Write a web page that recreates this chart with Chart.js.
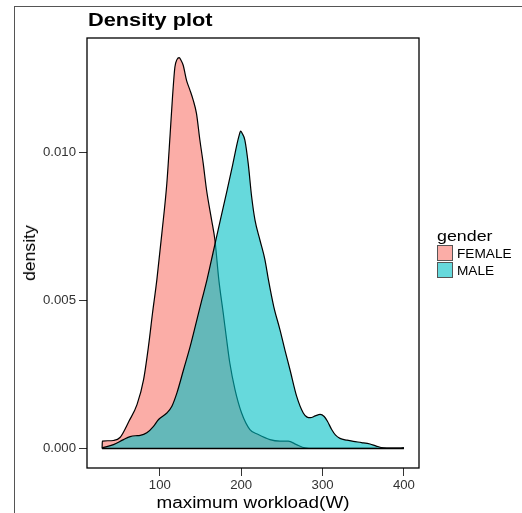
<!DOCTYPE html>
<html>
<head>
<meta charset="utf-8">
<title>Density plot</title>
<script src="https://cdn.jsdelivr.net/npm/chart.js@4.4.1/dist/chart.umd.min.js"></script>
<style>
body{margin:0;background:#fff;font-family:"Liberation Sans",Arial,sans-serif;}
#wrap{position:relative;width:522px;height:513px;overflow:hidden;}
#marco{position:absolute;left:14px;top:6px;width:520px;height:520px;border-left:1px solid #555;border-top:1px solid #555;}
#grafico{position:absolute;left:0;top:0;}
.txt{position:absolute;white-space:nowrap;color:#000;transform-origin:left top;}
.caja{position:absolute;left:437px;width:14px;height:14px;border:1px solid #555;}
</style>
</head>
<body>
<div id="wrap">
  <div id="marco"></div>
  <canvas id="grafico" width="522" height="513"></canvas>
  <div class="txt" style="left:88px;top:11.7px;font-size:17.7px;line-height:17.7px;font-weight:bold;transform:scaleX(1.23);">Density plot</div>
  <!-- titulos de ejes -->
  <div class="txt" style="left:253px;top:494.5px;font-size:16px;line-height:16px;transform-origin:center;transform:translateX(-50%) scaleX(1.18);">maximum workload(W)</div>
  <div class="txt" style="left:30px;top:253px;font-size:16px;line-height:16px;transform-origin:center;transform:translate(-50%,-50%) rotate(-90deg) scaleX(1.1);">density</div>
  <!-- leyenda -->
  <div class="txt" style="left:437px;top:227.6px;font-size:15.5px;line-height:15.5px;transform:scaleX(1.15);">gender</div>
  <div class="caja" style="top:245px;background:rgba(248,118,109,0.6);"></div>
  <div class="caja" style="top:262px;background:rgba(0,191,196,0.6);"></div>
  <div class="txt" style="left:456.5px;top:247.3px;font-size:13px;line-height:13px;transform:scaleX(1.05);">FEMALE</div>
  <div class="txt" style="left:456.5px;top:264px;font-size:13px;line-height:13px;transform:scaleX(1.05);">MALE</div>
</div>
<script>
// curvas de densidad
const femaleX = [29, 29.3, 36, 43, 51, 62, 72, 80, 86, 91, 96.3, 102.5, 108.6, 112.7, 115.6, 118.5, 121, 123.7, 126, 128.7, 132.8, 137, 141, 145, 149.2, 153.3, 157.4, 163.6, 167.7, 172.5, 177.9, 182, 186, 192.3, 200.5, 210.7, 221, 235.3, 247.6, 257.8, 268, 278.3, 290, 400];
const femaleY = [0, 0.00025, 0.00026, 0.00027, 0.00037, 0.00092, 0.00149, 0.00233, 0.00345, 0.00458, 0.0057, 0.00728, 0.00897, 0.01065, 0.0119, 0.0129, 0.01315, 0.01322, 0.01313, 0.01296, 0.01245, 0.01212, 0.01178, 0.01133, 0.01043, 0.00964, 0.00874, 0.00773, 0.00705, 0.0057, 0.00458, 0.0037, 0.00289, 0.002, 0.0012, 0.00064, 0.00047, 0.0003, 0.00025, 0.00025, 0.00013, 0.00002, 0, 0];

const maleX = [29, 43, 55.3, 63.5, 70, 75.8, 84, 92.2, 98.4, 108.6, 114.8, 121, 129.2, 137.3, 145.5, 151.7, 157.9, 166.2, 174.4, 182.7, 189.5, 194.1, 197.2, 199.3, 201.1, 204.5, 208.6, 212.8, 216.9, 223, 229.2, 233.5, 240, 247.6, 254, 259.9, 268.1, 276.3, 281, 285, 291, 297, 302, 306, 311.2, 316, 321.4, 330, 337.8, 348, 358.3, 366, 374.6, 385, 395, 400];
const maleY = [0.00002, 0.00013, 0.0003, 0.0004, 0.00043, 0.00044, 0.00053, 0.00075, 0.00098, 0.0012, 0.00143, 0.00188, 0.00267, 0.00345, 0.00435, 0.00503, 0.0057, 0.00672, 0.00773, 0.00874, 0.00959, 0.0102, 0.01056, 0.01073, 0.01066, 0.01043, 0.00964, 0.00852, 0.00773, 0.00705, 0.00638, 0.0057, 0.0048, 0.00402, 0.0033, 0.00267, 0.00177, 0.0012, 0.00106, 0.00104, 0.0011, 0.00115, 0.00108, 0.00092, 0.00064, 0.00045, 0.00034, 0.00028, 0.00024, 0.0002, 0.00015, 0.00008, 0.00002, 0.00001, 0.00001, 0.00003];

const xRange = [29, 400];
const xTicks = [100, 200, 300, 400];
const yTicks = [0, 0.005, 0.010];

const puntos = (xs, ys) => xs.map((x, i) => ({x: x, y: ys[i]}));

// limites con el 5% de margen como ggplot
const xPad = (xRange[1] - xRange[0]) * 0.05;
const yMax = Math.max(...femaleY, ...maleY);
const yPad = yMax * 0.05;

Chart.defaults.font.family = '"Liberation Sans", Arial, sans-serif';

// borde del panel
const bordePanel = {
    id: 'bordePanel',
    afterDraw(chart) {
        const {ctx, chartArea} = chart;
        ctx.save();
        ctx.strokeStyle = '#000';
        ctx.lineWidth = 1.3;
        ctx.strokeRect(chartArea.left, chartArea.top, chartArea.right - chartArea.left, chartArea.bottom - chartArea.top);
        ctx.restore();
    }
};

const ctx = document.getElementById('grafico').getContext('2d');
new Chart(ctx, {
    type: 'line',
    data: {
        datasets: [{
            label: 'FEMALE',
            data: puntos(femaleX, femaleY),
            borderColor: '#000',
            borderWidth: 1.2,
            backgroundColor: 'rgba(248,118,109,0.6)',
            fill: 'origin',
            pointRadius: 0,
            cubicInterpolationMode: 'monotone',
            order: 2
        }, {
            label: 'MALE',
            data: puntos(maleX, maleY),
            borderColor: '#000',
            borderWidth: 1.2,
            backgroundColor: 'rgba(0,191,196,0.6)',
            fill: 'origin',
            pointRadius: 0,
            cubicInterpolationMode: 'monotone',
            order: 1
        }, {
            // linea base de los poligonos
            label: 'base',
            data: puntos(xRange, [0, 0]),
            borderColor: '#000',
            borderWidth: 1.4,
            fill: false,
            pointRadius: 0,
            order: 0
        }]
    },
    options: {
        responsive: false,
        animation: false,
        devicePixelRatio: 1,
        layout: {padding: {top: 38, right: 103, left: 0, bottom: 0}},
        plugins: {
            legend: {display: false},
            tooltip: {enabled: false}
        },
        scales: {
            x: {
                type: 'linear',
                min: xRange[0] - xPad,
                max: xRange[1] + xPad,
                afterBuildTicks: (axis) => { axis.ticks = xTicks.map(v => ({value: v})); },
                afterFit: (scale) => { scale.height = 45; },
                grid: {drawOnChartArea: false, drawTicks: true, tickLength: 8, color: '#333', tickColor: '#333'},
                border: {display: false},
                ticks: {color: '#333', font: {size: 13.2}, padding: 1, maxRotation: 0, autoSkip: false}
            },
            y: {
                min: -yPad,
                max: yMax + yPad,
                afterBuildTicks: (axis) => { axis.ticks = yTicks.map(v => ({value: v})); },
                afterFit: (scale) => { scale.width = 87; },
                grid: {drawOnChartArea: false, drawTicks: true, tickLength: 8, color: '#333', tickColor: '#333'},
                border: {display: false},
                ticks: {color: '#333', font: {size: 13.2}, padding: 3, callback: (v) => v.toFixed(3)}
            }
        }
    },
    plugins: [bordePanel]
});
</script>
</body>
</html>
